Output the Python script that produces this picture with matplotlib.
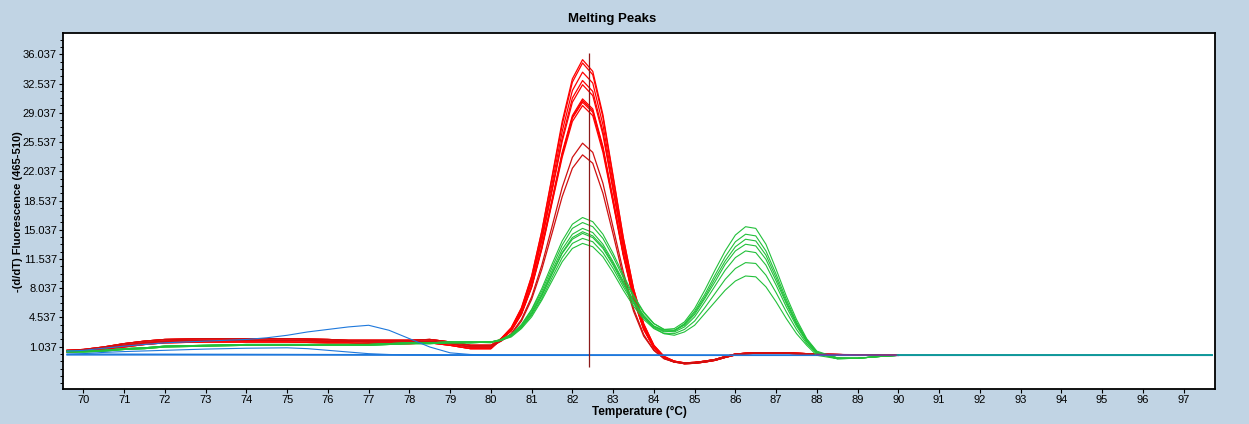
import matplotlib
matplotlib.use("Agg")
import matplotlib.pyplot as plt
from matplotlib.ticker import FixedLocator, NullFormatter

# ---------------- data ----------------
temps_left = [69.6, 70, 70.5, 71, 71.5, 72, 73, 74, 75, 76, 76.5, 77, 77.5, 78, 78.5, 79, 79.5, 80]
temps_red_peak = [80.25, 80.5, 80.75, 81, 81.25, 81.5, 81.75, 82, 82.25,
                  82.5, 82.75, 83, 83.25, 83.5, 83.75, 84, 84.25, 84.5]
temps_red_right = [84.75, 85, 85.25, 85.5, 85.75, 86, 86.25, 86.5, 86.75,
                   87, 87.25, 87.5, 87.75, 88, 88.5, 89, 89.5, 90]
temps_green_left = [69.6, 70, 70.5, 71, 71.5, 72, 73, 74, 75, 76, 76.5, 77, 77.5, 78, 78.5, 79, 79.5]
temps_green = [80, 80.25, 80.5, 80.75, 81, 81.25, 81.5, 81.75, 82, 82.25, 82.5, 82.75,
               83, 83.25, 83.5, 83.75, 84, 84.25, 84.5, 84.75, 85, 85.25, 85.5, 85.75,
               86, 86.25, 86.5, 86.75, 87, 87.25, 87.5, 87.75, 88, 88.5, 89, 89.5, 90]

red_tail_hi = [0.6, 0.7, 1.0, 1.4, 1.7, 1.9, 2.0, 2.0, 2.0, 1.9, 1.8, 1.8, 1.8, 1.8, 1.9, 1.6, 1.2, 1.2]
red_tail_mid = [0.5, 0.6, 0.9, 1.2, 1.5, 1.7, 1.8, 1.8, 1.8, 1.7, 1.7, 1.6, 1.6, 1.6, 1.7, 1.4, 1.0, 1.0]
red_tail_lo = [0.4, 0.5, 0.7, 1.0, 1.3, 1.5, 1.6, 1.6, 1.6, 1.5, 1.5, 1.4, 1.4, 1.4, 1.5, 1.2, 0.8, 0.8]
red_right_a = [-0.9, -0.85, -0.7, -0.5, -0.15, 0.15, 0.25, 0.3, 0.3, 0.3, 0.3, 0.25, 0.2, 0.15, 0.1, 0.05, 0.02, 0.0]
red_right_b = [-1.0, -0.95, -0.8, -0.6, -0.25, 0.05, 0.2, 0.25, 0.25, 0.25, 0.25, 0.2, 0.15, 0.1, 0.05, 0.0, 0.0, 0.0]

red_peak_1 = [2.0, 3.3, 5.7, 9.5, 14.9, 21.4, 28.0, 33.1, 35.4, 34.0, 28.8, 21.5, 14.1, 8.0, 3.8, 1.2, -0.1, -0.7]
red_peak_2 = [2.0, 3.3, 5.6, 9.4, 14.8, 21.2, 27.6, 32.7, 35.0, 33.6, 28.5, 21.3, 14.0, 8.0, 3.7, 1.2, -0.2, -0.7]
red_peak_3 = [2.0, 3.2, 5.5, 9.1, 14.3, 20.5, 26.8, 31.7, 33.9, 32.6, 27.6, 20.6, 13.5, 7.7, 3.6, 1.1, -0.2, -0.7]
red_peak_4 = [1.9, 3.1, 5.3, 8.9, 13.9, 19.9, 26.0, 30.8, 32.9, 31.6, 26.8, 20.0, 13.1, 7.4, 3.5, 1.1, -0.2, -0.7]
red_peak_5 = [1.9, 3.1, 5.3, 8.8, 13.7, 19.6, 25.6, 30.3, 32.4, 31.1, 26.4, 19.7, 12.9, 7.3, 3.4, 1.0, -0.2, -0.7]
red_peak_6 = [1.9, 3.0, 5.0, 8.3, 13.0, 18.6, 24.3, 28.7, 30.7, 29.5, 25.0, 18.7, 12.2, 6.9, 3.2, 0.9, -0.3, -0.8]
red_peak_7 = [1.9, 3.0, 5.0, 8.3, 12.9, 18.5, 24.1, 28.5, 30.5, 29.3, 24.8, 18.5, 12.1, 6.9, 3.2, 0.9, -0.3, -0.8]
red_peak_8 = [1.9, 3.0, 5.0, 8.2, 12.9, 18.4, 24.0, 28.4, 30.3, 29.1, 24.7, 18.4, 12.1, 6.8, 3.1, 0.9, -0.3, -0.8]
red_peak_9 = [1.9, 2.9, 4.9, 8.1, 12.7, 18.2, 23.7, 28.0, 29.9, 28.7, 24.3, 18.2, 11.9, 6.7, 3.1, 0.9, -0.3, -0.8]
red_peak_10 = [1.7, 2.6, 4.3, 7.0, 10.8, 15.4, 20.1, 23.7, 25.4, 24.3, 20.6, 15.3, 10.0, 5.6, 2.5, 0.6, -0.4, -0.8]
red_peak_11 = [1.7, 2.5, 4.1, 6.7, 10.3, 14.6, 19.0, 22.4, 24.0, 23.0, 19.4, 14.5, 9.4, 5.3, 2.3, 0.6, -0.4, -0.8]

green_tail_a = [0.5, 0.5, 0.6, 0.8, 0.9, 1.1, 1.2, 1.3, 1.3, 1.3, 1.3, 1.3, 1.4, 1.5, 1.5, 1.6, 1.6]
green_tail_b = [0.4, 0.4, 0.5, 0.7, 0.8, 1.0, 1.1, 1.2, 1.2, 1.2, 1.2, 1.2, 1.3, 1.4, 1.4, 1.5, 1.5]

green_1 = [1.6, 1.9, 2.5, 3.7, 5.5, 8.0, 10.9, 13.7, 15.7, 16.5, 16.0, 14.5, 12.2, 9.6, 7.2, 5.2, 3.8, 3.1, 3.0,
           3.6, 4.9, 6.8, 8.8, 10.9, 12.5, 13.3, 13.1, 11.5, 8.9, 6.2, 3.7, 1.7, 0.3, -0.4, -0.35, -0.15, 0.0]
green_2 = [1.6, 1.9, 2.5, 3.6, 5.4, 7.7, 10.5, 13.2, 15.2, 15.9, 15.4, 14.0, 11.8, 9.3, 7.0, 5.1, 3.8, 3.1, 3.2,
           4.0, 5.6, 7.8, 10.2, 12.5, 14.4, 15.4, 15.2, 13.3, 10.3, 7.1, 4.3, 2.0, 0.5, -0.3, -0.35, -0.15, 0.0]
green_3 = [1.6, 1.8, 2.4, 3.5, 5.2, 7.4, 10.1, 12.7, 14.5, 15.2, 14.7, 13.3, 11.2, 8.9, 6.6, 4.8, 3.5, 2.9, 2.8,
           3.4, 4.6, 6.4, 8.3, 10.2, 11.7, 12.5, 12.3, 10.8, 8.4, 5.8, 3.5, 1.6, 0.3, -0.4, -0.35, -0.15, 0.0]
green_4 = [1.6, 1.8, 2.4, 3.4, 5.0, 7.2, 9.8, 12.3, 14.1, 14.8, 14.3, 13.0, 11.0, 8.7, 6.5, 4.7, 3.5, 3.0, 3.0,
           3.8, 5.3, 7.3, 9.6, 11.8, 13.6, 14.5, 14.3, 12.5, 9.7, 6.7, 4.0, 1.9, 0.4, -0.3, -0.35, -0.15, 0.0]
green_5 = [1.6, 1.8, 2.4, 3.4, 5.0, 7.1, 9.7, 12.2, 13.9, 14.6, 14.1, 12.8, 10.8, 8.5, 6.4, 4.6, 3.3, 2.6, 2.4,
           2.8, 3.6, 5.0, 6.4, 7.8, 8.9, 9.5, 9.4, 8.2, 6.4, 4.4, 2.6, 1.2, 0.0, -0.4, -0.35, -0.15, 0.0]
green_6 = [1.6, 1.8, 2.3, 3.3, 4.8, 6.8, 9.3, 11.7, 13.4, 14.0, 13.6, 12.3, 10.4, 8.2, 6.2, 4.5, 3.4, 2.8, 2.9,
           3.7, 5.1, 7.0, 9.2, 11.3, 13.0, 13.9, 13.7, 12.0, 9.3, 6.4, 3.8, 1.8, 0.4, -0.3, -0.35, -0.15, 0.0]
green_7 = [1.5, 1.8, 2.2, 3.2, 4.6, 6.6, 8.9, 11.2, 12.8, 13.4, 13.0, 11.8, 9.9, 7.8, 5.9, 4.3, 3.2, 2.6, 2.6,
           3.1, 4.1, 5.7, 7.4, 9.1, 10.4, 11.1, 11.0, 9.6, 7.5, 5.2, 3.1, 1.4, 0.2, -0.4, -0.35, -0.15, 0.0]

blue_flat_temps = [69.6, 75, 80, 85, 90, 97.7]
blue_flat_1 = [0.15, 0.1, 0.05, 0.0, 0.0, 0.0]
blue_flat_2 = [0.05, 0.05, 0.0, 0.0, 0.0, 0.0]
blue_bump_temps = [69.6, 70, 71, 72, 73, 74, 74.5, 75, 75.5, 76, 76.5, 77, 77.5, 78, 78.5, 79, 79.5, 80, 90, 97.7]
blue_bump = [0.5, 0.6, 1.1, 1.5, 1.7, 1.9, 2.1, 2.4, 2.8, 3.1, 3.4, 3.6, 3.0, 2.0, 1.0, 0.3, 0.1, 0.05, 0.0, 0.0]
blue_small_temps = [69.6, 70, 70.5, 71, 72, 73, 74, 75, 75.5, 76, 76.5, 77, 77.5, 78, 79, 80, 90, 97.7]
blue_small = [0.1, 0.2, 0.35, 0.45, 0.6, 0.75, 0.85, 0.9, 0.8, 0.6, 0.4, 0.2, 0.1, 0.05, 0.0, 0.0, 0.0, 0.0]
purple_temps = [88.0, 88.5, 89.0, 89.5, 90.0]
purple_vals = [0.1, 0.08, 0.05, 0.03, 0.0]
teal_temps = [90.0, 97.7]
teal_vals = [0.0, 0.0]

cursor_temp = 82.42
cursor_low, cursor_high = -1.4, 36.2

x_ticks = list(range(70, 98))
y_ticks = [1.037, 4.537, 8.037, 11.537, 15.037, 18.537, 22.037, 25.537, 29.037, 32.537, 36.037]
y_tick_labels = ["1.037", "4.537", "8.037", "11.537", "15.037", "18.537", "22.037",
                 "25.537", "29.037", "32.537", "36.037"]

# ---------------- style ----------------
plt.rcParams["font.family"] = ["Liberation Sans", "DejaVu Sans"]

BG = "#c1d4e4"
RED = "#ff0000"
DARKRED = "#d01010"
GREEN = "#22c03a"
BLUE = "#1e78dc"

W, H = 1249, 424
fig = plt.figure(figsize=(W / 100, H / 100), dpi=100, facecolor=BG)
L, R, T, B = 63, 1215, 33, 389
ax = fig.add_axes([L / W, 1 - B / H, (R - L) / W, (B - T) / H])
ax.set_facecolor("white")

red_sets = [
    (red_tail_hi, red_peak_1, red_right_a, RED),
    (red_tail_mid, red_peak_2, red_right_b, RED),
    (red_tail_lo, red_peak_3, red_right_a, RED),
    (red_tail_hi, red_peak_4, red_right_b, RED),
    (red_tail_mid, red_peak_5, red_right_a, RED),
    (red_tail_lo, red_peak_6, red_right_b, RED),
    (red_tail_hi, red_peak_7, red_right_a, RED),
    (red_tail_mid, red_peak_8, red_right_b, RED),
    (red_tail_lo, red_peak_9, red_right_a, RED),
    (red_tail_hi, red_peak_10, red_right_b, DARKRED),
    (red_tail_mid, red_peak_11, red_right_a, DARKRED),
]
red_x = temps_left + temps_red_peak + temps_red_right
for tail, peak, right, col in red_sets:
    ax.plot(red_x, tail + peak + right, color=col, lw=0.9, zorder=3)

green_sets = [
    (green_tail_a, green_1), (green_tail_b, green_2), (green_tail_a, green_3),
    (green_tail_b, green_4), (green_tail_a, green_5), (green_tail_b, green_6),
    (green_tail_a, green_7),
]
green_x = temps_green_left + temps_green
for tail, vals in green_sets:
    ax.plot(green_x, tail + vals, color=GREEN, lw=0.8, zorder=4)

ax.plot(blue_flat_temps, blue_flat_1, color=BLUE, lw=1.0, zorder=2)
ax.plot(blue_flat_temps, blue_flat_2, color=BLUE, lw=1.0, zorder=2)
ax.plot(blue_bump_temps, blue_bump, color=BLUE, lw=0.8, zorder=5)
ax.plot(blue_small_temps, blue_small, color=BLUE, lw=0.8, zorder=5)
ax.plot(purple_temps, purple_vals, color="#7a3c8c", lw=1.2, zorder=6)
ax.plot(teal_temps, teal_vals, color="#109c94", lw=1.3, zorder=6)

ax.vlines(cursor_temp, cursor_low, cursor_high, color="#8b1a1a", lw=0.9, zorder=7)

ax.set_xlim(69.5, 97.77)
ax.set_ylim(-4.03, 38.59)

ax.set_xticks(x_ticks)
ax.set_xticklabels([str(v) for v in x_ticks])
ax.set_yticks(y_ticks)
ax.set_yticklabels(y_tick_labels)
minor = [1.037 + 0.875 * k for k in range(-5, 43)]
ax.yaxis.set_minor_locator(FixedLocator(minor))
ax.yaxis.set_minor_formatter(NullFormatter())
ax.tick_params(axis="both", which="major", direction="out", length=3, width=0.8,
               labelsize=8, colors="black", pad=1.5)
ax.tick_params(axis="y", which="minor", direction="out", length=2, width=0.7)
for s in ax.spines.values():
    s.set_linewidth(1.3)
    s.set_color("black")

fig.text(612 / W, 1 - 19 / H, "Melting Peaks", ha="center", va="center",
         fontsize=9.5, fontweight="bold")
fig.text(639 / W, 1 - 412 / H, "Temperature (°C)", ha="center", va="center",
         fontsize=8.5, fontweight="bold")
fig.text(18 / W, 1 - 212 / H, "-(d/dT) Fluorescence (465-510)", ha="center", va="center",
         rotation=90, fontsize=8, fontweight="bold")

fig.savefig("out.png", dpi=100, facecolor=BG)
